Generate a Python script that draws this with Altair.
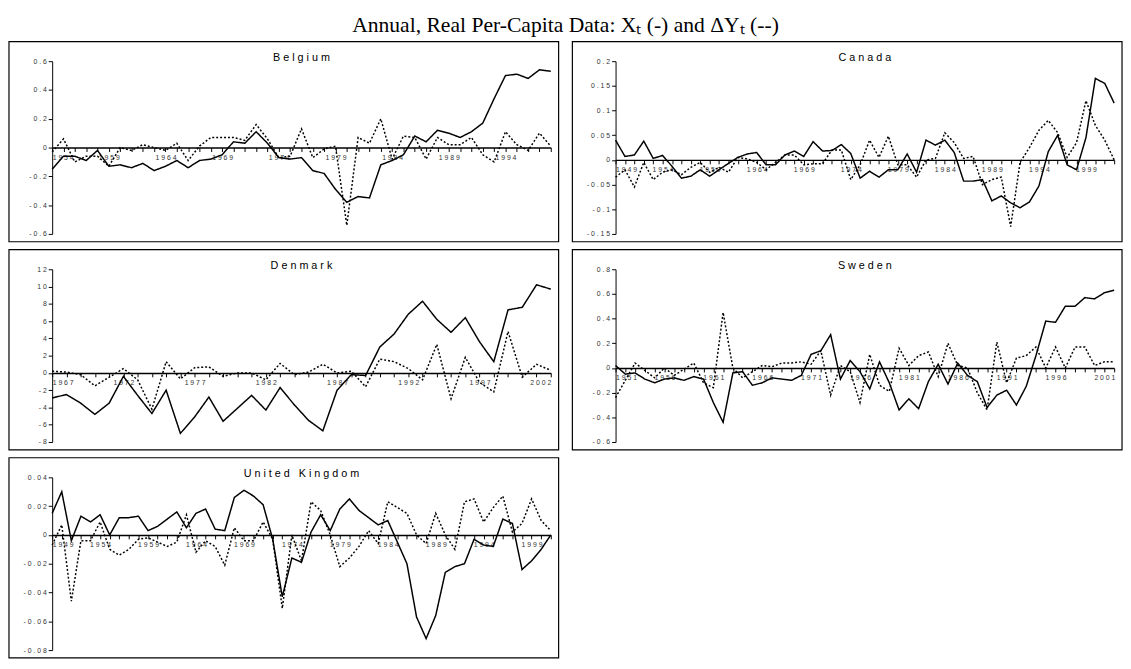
import pandas as pd
import altair as alt

# series: X_t solid, dY_t dotted
BEL_START = 1954
BEL_X = [-0.15, -0.06, -0.06, -0.09, -0.02, -0.13, -0.12, -0.14, -0.11, -0.16, -0.13, -0.09, -0.14, -0.09, -0.08,
         -0.05, 0.04, 0.03, 0.11, 0.03, -0.07, -0.08, -0.07, -0.16, -0.18, -0.29, -0.38, -0.34, -0.35, -0.12,
         -0.09, -0.05, 0.08, 0.04, 0.12, 0.10, 0.07, 0.11, 0.17, 0.34, 0.50, 0.51, 0.48, 0.54, 0.53]
BEL_DY = [-0.03, 0.06, -0.10, -0.06, -0.06, -0.13, 0.0, -0.02, 0.02, 0.0, -0.02, 0.03, -0.09, 0.01, 0.07,
          0.07, 0.07, 0.05, 0.16, 0.06, -0.07, -0.06, 0.13, -0.07, -0.01, 0.01, -0.54, 0.07, 0.03, 0.20,
          -0.08, 0.08, 0.07, -0.08, 0.07, 0.02, 0.02, 0.07, -0.05, -0.10, 0.11, 0.02, -0.02, 0.10, 0.01]

CAN_START = 1949
CAN_X = [0.04, 0.007, 0.01, 0.038, 0.003, 0.009, -0.013, -0.037, -0.033, -0.02, -0.033, -0.02, -0.007, 0.005,
         0.012, 0.015, -0.01, -0.01, 0.01, 0.018, 0.007, 0.037, 0.018, 0.019, 0.031, 0.013, -0.037, -0.023,
         -0.035, -0.02, -0.02, 0.012, -0.025, 0.04, 0.03, 0.04, 0.015, -0.043, -0.043, -0.04, -0.083, -0.073,
         -0.087, -0.097, -0.085, -0.053, 0.017, 0.05, -0.01, -0.02, 0.045, 0.165, 0.155, 0.115]
CAN_DY = [-0.035, -0.02, -0.055, -0.005, -0.04, -0.025, -0.02, -0.03, -0.015, -0.005, -0.025, -0.015, -0.025,
          0.005, 0.002, -0.005, -0.02, -0.005, 0.01, 0.01, -0.01, -0.008, -0.008, 0.02, 0.02, -0.04, -0.01,
          0.04, 0.005, 0.048, -0.01, -0.01, -0.035, 0.0, 0.003, 0.055, 0.035, 0.003, 0.007, -0.05, -0.04,
          -0.035, -0.135, -0.005, 0.025, 0.06, 0.08, 0.055, 0.005, 0.035, 0.12, 0.07, 0.04, 0.0]

DEN_START = 1967
DEN_X = [-2.9, -2.5, -3.5, -4.8, -3.5, -0.4, -2.6, -4.7, -2.0, -7.0, -5.1, -2.8, -5.6, -4.1, -2.6, -4.3, -1.7,
         -3.7, -5.5, -6.7, -2.0, -0.2, -0.3, 3.0, 4.5, 6.8, 8.3, 6.2, 4.7, 6.4, 3.6, 1.3, 7.3, 7.6, 10.2, 9.7]
DEN_DY = [0.2, 0.1, -0.2, -1.5, -0.5, 0.5, -0.8, -4.2, 1.3, -0.7, 0.6, 0.7, -0.4, 0.0, 0.0, -0.8, 1.1, -0.2,
          0.1, 1.0, 0.0, 0.2, -1.6, 1.6, 1.3, 0.5, -0.8, 3.3, -3.0, 1.8, -1.1, -2.2, 4.8, -0.5, 1.0, 0.3]

SWE_START = 1951
SWE_X = [0.02, -0.05, -0.04, -0.09, -0.12, -0.09, -0.08, -0.10, -0.07, -0.09, -0.28, -0.44, -0.04, -0.03,
         -0.14, -0.12, -0.08, -0.09, -0.10, -0.06, 0.11, 0.14, 0.27, -0.09, 0.06, -0.03, -0.17, 0.05, -0.12,
         -0.34, -0.25, -0.33, -0.11, 0.03, -0.13, 0.04, -0.06, -0.11, -0.32, -0.22, -0.18, -0.30, -0.15, 0.10,
         0.38, 0.37, 0.50, 0.50, 0.57, 0.56, 0.61, 0.63]
SWE_DY = [-0.24, -0.10, 0.04, -0.02, -0.08, 0.0, -0.06, -0.01, 0.04, -0.12, -0.16, 0.45, 0.0, -0.08, -0.03,
          0.02, 0.01, 0.04, 0.04, 0.05, 0.03, 0.14, -0.22, 0.02, -0.03, -0.28, 0.11, -0.14, -0.19, 0.16, 0.02,
          0.10, 0.13, -0.07, 0.20, 0.02, 0.0, -0.20, -0.34, 0.21, -0.12, 0.08, 0.10, 0.17, 0.0, 0.17, 0.0,
          0.17, 0.17, 0.02, 0.05, 0.05]

UK_START = 1949
UK_X = [0.015, 0.03, -0.004, 0.013, 0.009, 0.014, 0.0, 0.012, 0.012, 0.013, 0.003, 0.006, 0.011, 0.016,
        0.005, 0.015, 0.018, 0.004, 0.003, 0.026, 0.031, 0.027, 0.021, -0.003, -0.043, -0.016, -0.019, 0.002,
        0.014, 0.003, 0.018, 0.025, 0.017, 0.012, 0.007, 0.01, -0.005, -0.02, -0.057, -0.072, -0.056, -0.026,
        -0.022, -0.02, -0.003, -0.007, -0.008, 0.011, 0.008, -0.024, -0.018, -0.01, 0.0]
UK_DY = [-0.007, 0.007, -0.046, -0.004, -0.004, 0.009, -0.01, -0.014, -0.01, -0.003, -0.002, -0.005, -0.008,
         -0.005, 0.014, -0.012, -0.004, -0.008, -0.021, 0.005, -0.004, -0.004, 0.009, -0.003, -0.051, 0.0,
         -0.018, 0.023, 0.017, 0.0, -0.022, -0.016, -0.008, 0.003, -0.006, 0.023, 0.019, 0.015, 0.0, -0.006,
         0.015, 0.0, -0.01, 0.023, 0.025, 0.009, 0.019, 0.027, 0.002, 0.008, 0.025, 0.01, 0.003]

W, H = 508, 176
NB = "\u00a0"


def spaced(expr):
    return f"join(split({expr}, ''), '{NB}')"


def panel(name, start, xs, dys, ymin, ymax, ystep):
    n = len(xs)
    years = list(range(start, start + n))
    df = pd.DataFrame({"year": years * 2, "value": xs + dys, "series": ["X"] * n + ["dY"] * n})
    y0 = H * ymax / (ymax - ymin)
    yvals = [round(ymin + i * ystep, 4) for i in range(int(round((ymax - ymin) / ystep)) + 1)]
    xax = alt.Axis(values=years, offset=-(H - y0), domainColor="black", domainWidth=1.5, tickColor="black",
                   tickSize=4, grid=False, labelFontSize=7, labelColor="#333", labelPadding=2,
                   labelFont="Liberation Sans", labelAngle=0, labelOverlap=False, title=None,
                   labelExpr=f"(datum.value - {start}) % 5 == 0 ? {spaced('toString(datum.value)')} : ''")
    yax = alt.Axis(values=yvals, domainColor="black", tickColor="black", tickSize=4, grid=False,
                   labelFontSize=7, labelColor="#333", labelFont="Liberation Sans", title=None,
                   labelOverlap=False, labelExpr=spaced("toString(datum.value)"))
    lines = alt.Chart(df).mark_line(color="black", strokeWidth=1.5).encode(
        x=alt.X("year:Q", scale=alt.Scale(domain=[start, start + n - 1], nice=False, zero=False), axis=xax),
        y=alt.Y("value:Q", scale=alt.Scale(domain=[ymin, ymax], nice=False), axis=yax),
        strokeDash=alt.StrokeDash("series:N", scale=alt.Scale(domain=["X", "dY"], range=[[1, 0], [2, 2]]),
                                  legend=None),
    )
    frame = alt.Chart(df.head(1)).mark_rect(fill=None, stroke="black", strokeWidth=1.2).encode(
        x=alt.value(-44), x2=alt.value(W + 8), y=alt.value(-20), y2=alt.value(H + 8))
    label = alt.Chart(df.head(1)).mark_text(fontSize=11, font="Liberation Sans", baseline="top").encode(
        x=alt.value(W / 2), y=alt.value(-9), text=alt.value(NB.join(name)))
    return alt.layer(lines, frame, label).properties(width=W, height=H)


bel = panel("Belgium", BEL_START, BEL_X, BEL_DY, -0.6, 0.6, 0.2)
can = panel("Canada", CAN_START, CAN_X, CAN_DY, -0.15, 0.2, 0.05)
den = panel("Denmark", DEN_START, DEN_X, DEN_DY, -8, 12, 2)
swe = panel("Sweden", SWE_START, SWE_X, SWE_DY, -0.6, 0.8, 0.2)
uk = panel("United Kingdom", UK_START, UK_X, UK_DY, -0.08, 0.04, 0.02)

chart = alt.vconcat(
    alt.hconcat(bel, can, spacing=12),
    alt.hconcat(den, swe, spacing=12),
    alt.hconcat(uk, spacing=12),
    spacing=6,
).properties(
    title=alt.Title("Annual, Real Per-Capita Data: Xₜ (-) and ΔYₜ (--)", font="Liberation Serif",
                    fontSize=22, fontWeight="normal", anchor="middle", offset=4),
    padding={"left": 0, "top": 0, "right": 0, "bottom": 0},
).configure_view(stroke=None)

chart.save("out.html", embed_options={"renderer": "svg", "actions": False})
